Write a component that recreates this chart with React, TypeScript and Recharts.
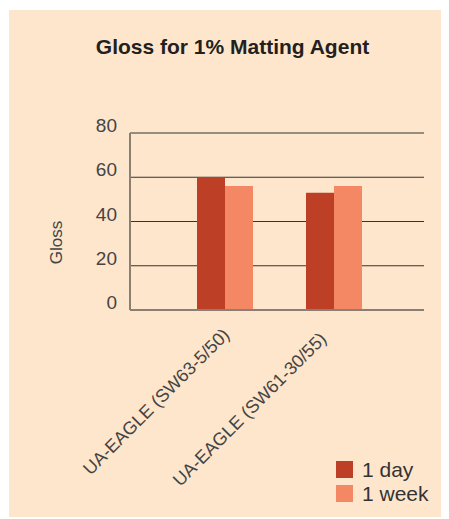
import React from 'react';
import { BarChart, Bar, XAxis, YAxis, CartesianGrid, Legend } from 'recharts';

const categories = ['UA-EAGLE (SW63-5/50)', 'UA-EAGLE (SW61-30/55)'];
const oneDay = [60, 53];
const oneWeek = [56, 56];
const seriesNames = ['1 day', '1 week'];
const seriesColors = ['#bd4026', '#f48764'];
const yTicks = [0, 20, 40, 60, 80];
const title = 'Gloss for 1% Matting Agent';
const yLabel = 'Gloss';

const data = categories.map((c, i) => ({ name: c, day: oneDay[i], week: oneWeek[i] }));

const FONT = '"Liberation Sans", Arial, Helvetica, sans-serif';

const XTick = (props: any) => {
  const { x, y, payload, index } = props;
  const shift = index === 0 ? 6 : -6;
  const down = index === 0 ? 26 : 30;
  return (
    <g transform={`translate(${x + shift},${y + down})`}>
      <text
        x={0}
        y={0}
        textAnchor="end"
        transform="rotate(-45)"
        fontFamily={FONT}
        fontSize={18}
        fill="#444"
      >
        {payload.value}
      </text>
    </g>
  );
};

const YTick = (props: any) => {
  const { x, y, payload } = props;
  return (
    <text x={x} y={y - 1} textAnchor="end" fontFamily={FONT} fontSize={19} fill="#444">
      {payload.value}
    </text>
  );
};

const YLabel = (props: any) => {
  const vb = props.viewBox || { x: 0, y: 0, width: 0, height: 0 };
  const cx = vb.x + 47;
  const cy = vb.y + vb.height / 2 + 21;
  return (
    <text
      x={cx}
      y={cy}
      textAnchor="middle"
      dominantBaseline="central"
      transform={`rotate(-90, ${cx}, ${cy})`}
      fontFamily={FONT}
      fontSize={17}
      fill="#444"
    >
      {yLabel}
    </text>
  );
};

const LegendContent = () => (
  <div style={{ fontFamily: FONT }}>
    {seriesNames.map((n, i) => (
      <div key={n} style={{ display: 'flex', alignItems: 'center', height: 17, marginBottom: 7 }}>
        <div style={{ width: 17, height: 17, background: seriesColors[i], marginRight: 9 }} />
        <span style={{ fontSize: 21, lineHeight: '17px', color: '#333' }}>{n}</span>
      </div>
    ))}
  </div>
);

export default function App() {
  return (
    <div
      style={{
        position: 'relative',
        left: 1,
        top: 2,
        width: 439,
        height: 509,
        background: '#fee6cc',
      }}
    >
      <div
        style={{
          position: 'absolute',
          left: 0,
          top: 25,
          width: 447,
          textAlign: 'center',
          fontFamily: FONT,
          fontWeight: 'bold',
          fontSize: 21,
          lineHeight: '24px',
          color: '#231f20',
        }}
      >
        {title}
      </div>
      <BarChart
        width={439}
        height={509}
        data={data}
        margin={{ top: 123, right: 24, left: 0, bottom: 109 }}
        barGap={0}
        style={{ position: 'absolute', left: 0, top: 0 }}
      >
        <CartesianGrid vertical={false} stroke="#333" strokeWidth={1} />
        <XAxis
          dataKey="name"
          height={100}
          padding={{ left: 40, right: 36 }}
          tickLine={false}
          tickSize={0}
          tickMargin={0}
          interval={0}
          axisLine={{ stroke: '#8b7f74', strokeWidth: 2 }}
          tick={<XTick />}
        />
        <YAxis
          width={121}
          domain={[0, 80]}
          ticks={yTicks}
          tickLine={false}
          tickSize={0}
          tickMargin={13}
          axisLine={{ stroke: '#8b7f74', strokeWidth: 2 }}
          tick={<YTick />}
          label={<YLabel />}
        />
        <Legend
          layout="horizontal"
          verticalAlign="middle"
          align="center"
          content={<LegendContent />}
          wrapperStyle={{ position: 'absolute', left: 327, top: 451, width: 'auto', height: 'auto' }}
        />
        <Bar dataKey="day" name={seriesNames[0]} fill={seriesColors[0]} barSize={28} isAnimationActive={false} />
        <Bar dataKey="week" name={seriesNames[1]} fill={seriesColors[1]} barSize={28} isAnimationActive={false} />
      </BarChart>
    </div>
  );
}
